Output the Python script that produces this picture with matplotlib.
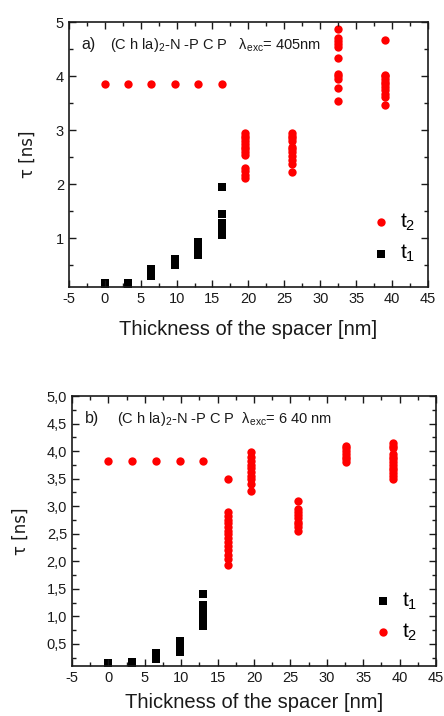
#!/usr/bin/env python3
"""Fluorescence lifetimes vs spacer thickness, two excitation wavelengths."""
import matplotlib

matplotlib.use("Agg")
import matplotlib.pyplot as plt
from matplotlib.ticker import FuncFormatter, MultipleLocator

plt.rcParams["font.family"] = ["Liberation Sans", "DejaVu Sans"]
plt.rcParams["mathtext.fontset"] = "custom"
plt.rcParams["mathtext.rm"] = "Liberation Sans"
plt.rcParams["mathtext.it"] = "Liberation Sans:italic"
plt.rcParams["axes.unicode_minus"] = False

# ---- panel a) 405 nm ----
a_t2_flat_x = [0, 3.3, 6.5, 9.8, 13.0, 16.3]
a_t2_flat_y = [3.86, 3.86, 3.86, 3.86, 3.86, 3.86]
a_t2_x195 = [2.12, 2.18, 2.25, 2.3, 2.55, 2.6, 2.65, 2.7, 2.75, 2.8, 2.85, 2.9, 2.95]
a_t2_x26 = [2.22, 2.38, 2.45, 2.52, 2.6, 2.65, 2.7, 2.8, 2.85, 2.9, 2.95]
a_t2_x325 = [3.55, 3.78, 3.95, 4.0, 4.05, 4.33, 4.55, 4.6, 4.65, 4.7, 4.88]
a_t2_x39 = [3.47, 3.62, 3.68, 3.75, 3.8, 3.85, 3.9, 3.95, 4.0, 4.03, 4.67]
a_t1 = {
    0.0: [0.13, 0.18],
    3.3: [0.13, 0.18],
    6.5: [0.3, 0.35, 0.4, 0.43],
    9.8: [0.5, 0.55, 0.6, 0.62],
    13.0: [0.7, 0.75, 0.8, 0.85, 0.9, 0.93],
    16.3: [1.07, 1.12, 1.17, 1.22, 1.28, 1.45, 1.95],
}

# ---- panel b) 640 nm ----
b_t2_flat_x = [0, 3.3, 6.5, 9.8, 13.0]
b_t2_flat_y = [3.83, 3.83, 3.83, 3.83, 3.83]
b_t2_x164 = [1.93, 2.05, 2.12, 2.2, 2.28, 2.35, 2.42, 2.5, 2.55, 2.62, 2.7, 2.75, 2.82, 2.9, 3.5]
b_t2_x196 = [3.28, 3.4, 3.5, 3.55, 3.62, 3.7, 3.75, 3.82, 3.9, 3.98]
b_t2_x261 = [2.56, 2.62, 2.68, 2.72, 2.78, 2.85, 2.9, 2.95, 3.1]
b_t2_x326 = [3.8, 3.85, 3.9, 3.95, 4.0, 4.05, 4.1]
b_t2_x391 = [3.5, 3.55, 3.6, 3.65, 3.7, 3.75, 3.8, 3.85, 3.9, 3.95, 4.05, 4.1, 4.15]
b_t1 = {
    0.0: [0.15],
    3.3: [0.15, 0.17],
    6.5: [0.22, 0.26, 0.3, 0.33],
    9.8: [0.35, 0.42, 0.48, 0.55],
    13.0: [0.83, 0.9, 0.97, 1.05, 1.12, 1.2, 1.4],
}

RED = "#ff0000"
TXT = "#1a1a1a"


def flatten(groups):
    xs, ys = [], []
    for x, vals in groups:
        xs += [x] * len(vals)
        ys += list(vals)
    return xs, ys


def style_axes(ax, ymajor, yminor, fmt, xpad, ypad):
    ax.set_xlim(-5, 45)
    ax.set_ylim(0.1, 5.0)
    ax.xaxis.set_major_locator(MultipleLocator(5))
    ax.xaxis.set_minor_locator(MultipleLocator(2.5))
    ax.yaxis.set_major_locator(MultipleLocator(ymajor))
    ax.yaxis.set_minor_locator(MultipleLocator(yminor))
    ax.yaxis.set_major_formatter(FuncFormatter(fmt))
    ax.tick_params(which="both", direction="in", top=True, right=True, colors=TXT, labelsize=10.5)
    ax.tick_params(which="major", length=5, width=1)
    ax.tick_params(which="minor", length=3, width=1)
    for s in ax.spines.values():
        s.set_linewidth(1.2)
        s.set_color(TXT)
    ax.set_xlabel("Thickness of the spacer [nm]", fontsize=14.5, color=TXT, labelpad=xpad)
    ax.set_ylabel("τ [ns]", fontsize=12, color=TXT, family=["DejaVu Sans"], labelpad=ypad)


fig = plt.figure(figsize=(4.44, 7.16), dpi=100)

# panel a
ax1 = fig.add_axes([0.155, 0.599, 0.809, 0.370])
t1x, t1y = flatten(a_t1.items())
t2x, t2y = flatten([(19.5, a_t2_x195), (26.0, a_t2_x26), (32.5, a_t2_x325), (39.0, a_t2_x39)])
h2 = ax1.scatter(a_t2_flat_x + t2x, a_t2_flat_y + t2y, s=36, marker="o", color=RED, linewidths=0)
h1 = ax1.scatter(t1x, t1y, s=30, marker="s", color="black", linewidths=0)
style_axes(ax1, 1, 0.5, lambda v, p: f"{v:.0f}", 10, 14)
ax1.text(0.035, 0.9, "a)", transform=ax1.transAxes, fontsize=11.5, color=TXT)
ax1.text(0.115, 0.9, "(C h la)$_2$-N -P C P   λ$_{\\mathrm{exc}}$= 405nm",
         transform=ax1.transAxes, fontsize=10.5, color=TXT)
ax1.legend([h2, h1], ["t$_2$", "t$_1$"], loc="lower right", bbox_to_anchor=(1.017, 0.015),
           frameon=False, fontsize=15, handletextpad=0.4, labelspacing=0.5,
           markerscale=1.0, handlelength=1.0)

# panel b
ax2 = fig.add_axes([0.162, 0.0698, 0.820, 0.377])
t1x, t1y = flatten(b_t1.items())
t2x, t2y = flatten([(16.4, b_t2_x164), (19.6, b_t2_x196), (26.1, b_t2_x261),
                    (32.6, b_t2_x326), (39.1, b_t2_x391)])
h2 = ax2.scatter(b_t2_flat_x + t2x, b_t2_flat_y + t2y, s=36, marker="o", color=RED, linewidths=0)
h1 = ax2.scatter(t1x, t1y, s=30, marker="s", color="black", linewidths=0)
style_axes(ax2, 0.5, 0.25, lambda v, p: f"{v:.1f}".replace(".", ","), 6, 12)
ax2.text(0.035, 0.9, "b)", transform=ax2.transAxes, fontsize=11.5, color=TXT)
ax2.text(0.125, 0.9, "(C h la)$_2$-N -P C P  λ$_{\\mathrm{exc}}$= 6 40 nm",
         transform=ax2.transAxes, fontsize=10.5, color=TXT)
ax2.legend([h1, h2], ["t$_1$", "t$_2$"], loc="lower right", bbox_to_anchor=(1.0, 0.015),
           frameon=False, fontsize=15, handletextpad=0.4, labelspacing=0.5,
           markerscale=1.0, handlelength=1.0)

fig.savefig("out.png", dpi=100)
